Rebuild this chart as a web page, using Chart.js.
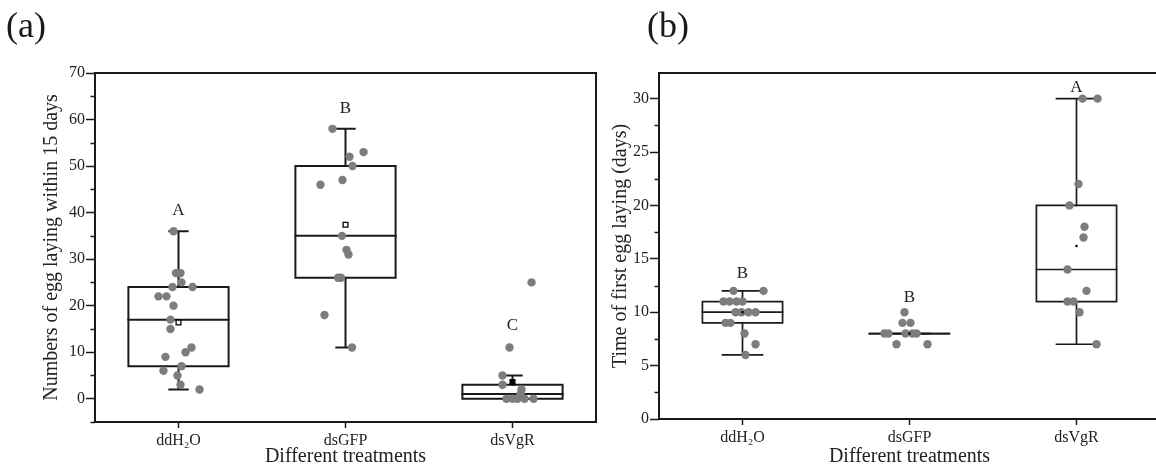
<!DOCTYPE html>
<html><head><meta charset="utf-8">
<script src="https://cdn.jsdelivr.net/npm/chart.js@4/dist/chart.umd.min.js"></script>
<style>
html,body{margin:0;padding:0;background:#fff;overflow:hidden;width:1156px;height:471px;}
.panel{position:absolute;top:0;height:471px;}
#wa{left:0;width:620px;}
#wb{left:600px;width:600px;}
.tag{position:absolute;top:7px;font-family:'Liberation Serif',serif;font-size:36px;line-height:36px;color:#1a1a1a;}
</style></head><body>
<div id="wa" class="panel"><canvas id="ca" width="620" height="471"></canvas></div>
<div id="wb" class="panel"><canvas id="cb" width="600" height="471"></canvas></div>
<div class="tag" style="left:6px;">(a)</div>
<div class="tag" style="left:647px;">(b)</div>
<script>
// ---------- shared ----------
const categories = ['ddH\u2082O', 'dsGFP', 'dsVgR'];
const xTitle = 'Different treatments';

// ---------- panel (a): numbers of egg laying within 15 days ----------
const eggTitle = 'Numbers of egg laying within 15 days';
const eggDdH2O = [36,27,27,25,24,24,22,22,20,17,15,11,10,9,7,6,5,3,2];
const eggDsGFP = [58,53,52,50,47,46,35,32,31,26,26,18,11];
const eggDsVgR = [25,11,5,3,2,1,0,0,0,0,0];
const eggJitterDdH2O = [-0.03,-0.015,0.012,0.018,-0.036,0.084,-0.12,-0.072,-0.03,-0.048,-0.048,0.078,0.042,-0.078,0.018,-0.09,-0.006,0.012,0.126];
const eggJitterDsGFP = [-0.078,0.108,0.024,0.042,-0.018,-0.15,-0.021,0.006,0.018,-0.045,-0.027,-0.126,0.039];
const eggJitterDsVgR = [0.114,-0.018,-0.06,-0.06,0.054,0.048,-0.036,0,0.03,0.072,0.126];
const eggMin = [2,11,0];
const eggQ1 = [7,26,0];
const eggMedian = [17,35,1];
const eggQ3 = [24,50,3];
const eggMax = [36,58,5];
const eggMean = [16.4,37.4,3.6];
const eggLetters = ['A','B','C'];
const eggLetterY = [40.4,62.4,15.8];
const eggTickLabels = [0,10,20,30,40,50,60,70];

// ---------- panel (b): time of first egg laying (days) ----------
const dayTitle = 'Time of first egg laying (days)';
const dayDdH2O = [12,12,11,11,11,11,10,10,10,10,9,9,8,7,6];
const dayDsGFP = [10,9,9,8,8,8,8,8,7,7];
const dayDsVgR = [30,30,22,20,18,17,14,12,11,11,10,7];
const dayJitterDdH2O = [-0.054,0.126,-0.114,-0.078,-0.036,0,-0.042,-0.006,0.036,0.078,-0.102,-0.072,0.012,0.078,0.018];
const dayJitterDsGFP = [-0.03,-0.042,0.006,-0.15,-0.126,-0.024,0.018,0.042,-0.078,0.108];
const dayJitterDsVgR = [0.036,0.126,0.012,-0.042,0.048,0.042,-0.054,0.06,-0.054,-0.018,0.018,0.12];
const dayMin = [6,8,7];
const dayQ1 = [9,8,11];
const dayMedian = [10,8,14];
const dayQ3 = [11,8,20];
const dayMax = [12,8,30];
const dayMean = [10,8,16.2];
const dayLetters = ['B','B','A'];
const dayLetterY = [13.6,11.4,31];
const dayTickLabels = [0,5,10,15,20,25,30];

// ---------- helpers ----------
const FONT = "'Liberation Serif', 'Times New Roman', serif";
const INK = '#1a1a1a';

function gap(){ return {x:null, y:null}; }

function boxData(mins,q1s,meds,q3s,maxs,hw,cw){
  const box=[], med=[], whisk=[];
  for(let i=0;i<q1s.length;i++){
    const c=i+1;
    box.push({x:c-hw,y:q1s[i]},{x:c+hw,y:q1s[i]},{x:c+hw,y:q3s[i]},{x:c-hw,y:q3s[i]},{x:c-hw,y:q1s[i]},gap());
    med.push({x:c-hw,y:meds[i]},{x:c+hw,y:meds[i]},gap());
    whisk.push({x:c,y:q3s[i]},{x:c,y:maxs[i]},gap(),
               {x:c,y:q1s[i]},{x:c,y:mins[i]},gap(),
               {x:c-cw,y:maxs[i]},{x:c+cw,y:maxs[i]},gap(),
               {x:c-cw,y:mins[i]},{x:c+cw,y:mins[i]},gap());
  }
  return {box, med, whisk};
}

function pointData(groups, jitters){
  const out=[];
  groups.forEach((g,gi)=>g.forEach((v,k)=>out.push({x:gi+1+jitters[gi][k], y:v})));
  return out;
}

const decor = {
  id:'decor',
  afterDraw(chart, args, o){
    const {ctx, chartArea:a, scales:{x,y}} = chart;
    ctx.save();
    // minor ticks
    ctx.strokeStyle=INK; ctx.lineWidth=1.5;
    for(let v=y.min; v<=y.max+1e-9; v+=o.minorStep){
      const r=v/o.majorStep;
      if(Math.abs(r-Math.round(r))<1e-6) continue;
      const py=Math.round(y.getPixelForValue(v))+0.5;
      ctx.beginPath(); ctx.moveTo(a.left-4.5,py); ctx.lineTo(a.left,py); ctx.stroke();
    }
    // frame
    ctx.lineWidth=2; ctx.strokeStyle=INK;
    ctx.strokeRect(a.left, a.top, a.right-a.left, a.bottom-a.top);
    // letters
    ctx.fillStyle='#222'; ctx.font="17px "+FONT; ctx.textAlign='center'; ctx.textBaseline='middle';
    o.letters.forEach((t,i)=>ctx.fillText(t, x.getPixelForValue(i+1), y.getPixelForValue(o.letterY[i])));
    ctx.restore();
  }
};

function makeChart(id, cfg){
  const b = boxData(cfg.mins,cfg.q1s,cfg.meds,cfg.q3s,cfg.maxs,cfg.hw,cfg.cw);
  const lineDs = (data)=>({type:'scatter', data, showLine:true, spanGaps:false, borderColor:INK,
      borderWidth:cfg.lw, pointRadius:0, pointHoverRadius:0, fill:false, tension:0,
      borderJoinStyle:'miter', borderCapStyle:'square'});
  return new Chart(document.getElementById(id), {
    type:'scatter',
    data:{datasets:[
      {data:cfg.means.map((v,i)=>({x:i+1,y:v})), pointStyle:'rect', pointRadius:cfg.meanR,
       backgroundColor:cfg.meanFill, borderColor:'#000', borderWidth:cfg.meanBW},
      {data:pointData(cfg.groups,cfg.jitters), pointRadius:4.2, backgroundColor:'#7d7d7d', borderWidth:0},
      lineDs(b.med), lineDs(b.box), lineDs(b.whisk)
    ]},
    options:{
      responsive:false, animation:false, devicePixelRatio:1,
      layout:{padding:{top:73, right:cfg.padRight, left:0, bottom:0}},
      plugins:{legend:{display:false}, tooltip:{enabled:false},
        decor:{minorStep:cfg.minorStep, majorStep:cfg.majorStep, letters:cfg.letters, letterY:cfg.letterY}},
      scales:{
        x:{type:'linear', min:0.5, max:3.5, bounds:'data',
           afterFit:s=>{s.height=cfg.xH;},
           afterBuildTicks:s=>{s.ticks=categories.map((c,i)=>({value:i+1}));},
           ticks:{callback:(v)=>categories[v-1], font:{family:FONT,size:16}, color:'#222', padding:3, maxRotation:0},
           grid:{display:true, drawOnChartArea:false, tickLength:6, tickColor:INK, tickWidth:1.5},
           border:{display:false},
           title:{display:true, text:xTitle, font:{family:FONT,size:20}, color:'#222', padding:{top:0,bottom:2}}},
        y:{type:'linear', min:cfg.yMin, max:cfg.yMax, bounds:'data',
           afterFit:s=>{s.width=cfg.yW;},
           afterBuildTicks:s=>{s.ticks=cfg.tickLabels.map(v=>({value:v}));},
           ticks:{font:{family:FONT,size:16}, color:'#222', padding:1},
           grid:{display:true, drawOnChartArea:false, tickLength:9, tickColor:INK, tickWidth:1.5},
           border:{display:false},
           title:{display:true, text:cfg.yTitle, font:{family:FONT,size:20}, color:'#222', padding:{top:cfg.yTitlePad,bottom:0}}}
      }
    },
    plugins:[decor]
  });
}

makeChart('ca', {
  groups:[eggDdH2O,eggDsGFP,eggDsVgR], jitters:[eggJitterDdH2O,eggJitterDsGFP,eggJitterDsVgR],
  mins:eggMin, q1s:eggQ1, meds:eggMedian, q3s:eggQ3, maxs:eggMax, means:eggMean,
  letters:eggLetters, letterY:eggLetterY, tickLabels:eggTickLabels, yTitle:eggTitle,
  hw:0.3, cw:0.055, lw:2, meanR:3.4, meanBW:1.3, meanFill:['#fff','#fff','#000'],
  yMin:-5, yMax:70, majorStep:10, minorStep:5, padRight:24, xH:49, yW:95, yTitlePad:40
});

makeChart('cb', {
  groups:[dayDdH2O,dayDsGFP,dayDsVgR], jitters:[dayJitterDdH2O,dayJitterDsGFP,dayJitterDsVgR],
  mins:dayMin, q1s:dayQ1, meds:dayMedian, q3s:dayQ3, maxs:dayMax, means:dayMean,
  letters:dayLetters, letterY:dayLetterY, tickLabels:dayTickLabels, yTitle:dayTitle,
  hw:0.24, cw:0.12, lw:1.7, meanR:1.6, meanBW:0, meanFill:'#000',
  yMin:0, yMax:32.4, majorStep:5, minorStep:2.5, padRight:40, xH:52, yW:59, yTitlePad:9
});
</script>
</body></html>
